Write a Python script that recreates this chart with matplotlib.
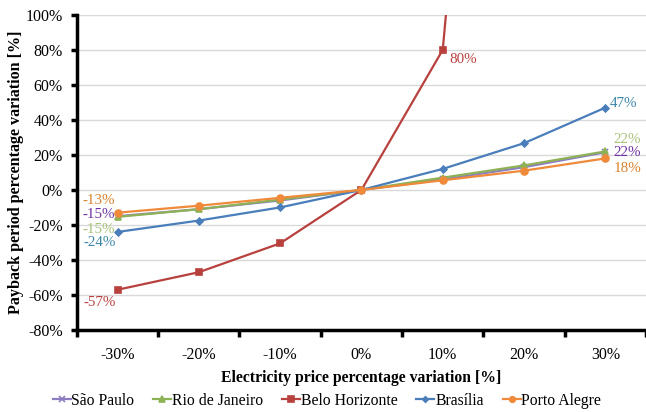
import matplotlib.pyplot as plt

plt.rcParams['font.family'] = 'Liberation Serif'

price_var = ['-30%', '-20%', '-10%', '0%', '10%', '20%', '30%']

sao_paulo = [-15, -11, -6, 0, 6, 13, 21.5]
rio = [-15.4, -11, -5.5, 0, 7, 14, 22]
belo = [-57, -47, -30.5, 0, 80, 590, 1100]
brasilia = [-24, -17.5, -10, 0, 12, 26.7, 47]
porto = [-13, -9, -4.5, 0, 5.5, 11, 18]

y_ticks = [-80, -60, -40, -20, 0, 20, 40, 60, 80, 100]

series = [
    ('São Paulo', sao_paulo, '#8E7CC3', 'x', 5),
    ('Rio de Janeiro', rio, '#8DB255', '^', 5),
    ('Belo Horizonte', belo, '#B8413E', 's', 5),
    ('Brasília', brasilia, '#4A7EBB', 'D', 3.5),
    ('Porto Alegre', porto, '#EE8A3A', 'o', 5),
]

fig = plt.figure(figsize=(6.46, 4.12), dpi=100)
ax = fig.add_axes([0.119, 0.199, 0.881, 0.765])

x = list(range(len(price_var)))
for name, vals, color, marker, ms in series:
    ax.plot(x, vals, color=color, marker=marker, markersize=ms, linewidth=1.6,
            markeredgewidth=1.2, label=name)

ax.set_xlim(-0.5, 6.5)
ax.set_ylim(-80, 100)
ax.set_yticks(y_ticks)
ax.set_yticklabels([f'{v}%' for v in y_ticks], fontsize=11.5)
ax.set_xticks(x)
ax.set_xticklabels(price_var, fontsize=11.5)
ax.set_xticks([i - 0.5 for i in range(len(price_var) + 1)], minor=True)
ax.tick_params(axis='x', which='major', length=0, pad=12)
ax.tick_params(axis='x', which='minor', length=5, width=2.5, direction='out')
ax.tick_params(axis='y', length=4, width=2.5, direction='out', pad=6)

ax.grid(axis='y', color='#d9d9d9', linewidth=1)
ax.set_axisbelow(True)
for side in ['top', 'right']:
    ax.spines[side].set_visible(False)
for side in ['left', 'bottom']:
    ax.spines[side].set_linewidth(2.5)

ax.set_xlabel('Electricity price percentage variation [%]', fontsize=11.3,
              fontweight='bold', labelpad=5)
ax.set_ylabel('Payback period percentage variation [%]', fontsize=11.6,
              fontweight='bold', labelpad=1)

# end-point value labels: (series, index, offset in points, align, colour)
labels = [
    (porto, 0, (-2, 9), 'right', '#D9822B'),
    (sao_paulo, 0, (-2, 1), 'right', '#7030A0'),
    (rio, 0, (-2, -9), 'right', '#A9C27A'),
    (brasilia, 0, (-1, -7.5), 'right', '#3A86A8'),
    (belo, 0, (-1, -9.5), 'right', '#B8413E'),
    (belo, 4, (5, -7), 'left', '#B8413E'),
    (brasilia, 6, (3.5, 3), 'left', '#3A86A8'),
    (rio, 6, (6, 8.5), 'left', '#A9C27A'),
    (sao_paulo, 6, (6, -0.5), 'left', '#7030A0'),
    (porto, 6, (6, -7), 'left', '#D9822B'),
]
for vals, i, off, ha, color in labels:
    ax.annotate(f'{vals[i]:.0f}%', (i, vals[i]), xytext=off, textcoords='offset points',
                ha=ha, va='center', color=color, fontsize=10.8)

fig.legend(loc='center', bbox_to_anchor=(0.506, 0.027), ncol=5, frameon=False,
           fontsize=11.3, handlelength=1.15, handletextpad=0.05, columnspacing=1.2,
           markerscale=0.8, borderpad=0)

fig.savefig('out.png', dpi=100)
